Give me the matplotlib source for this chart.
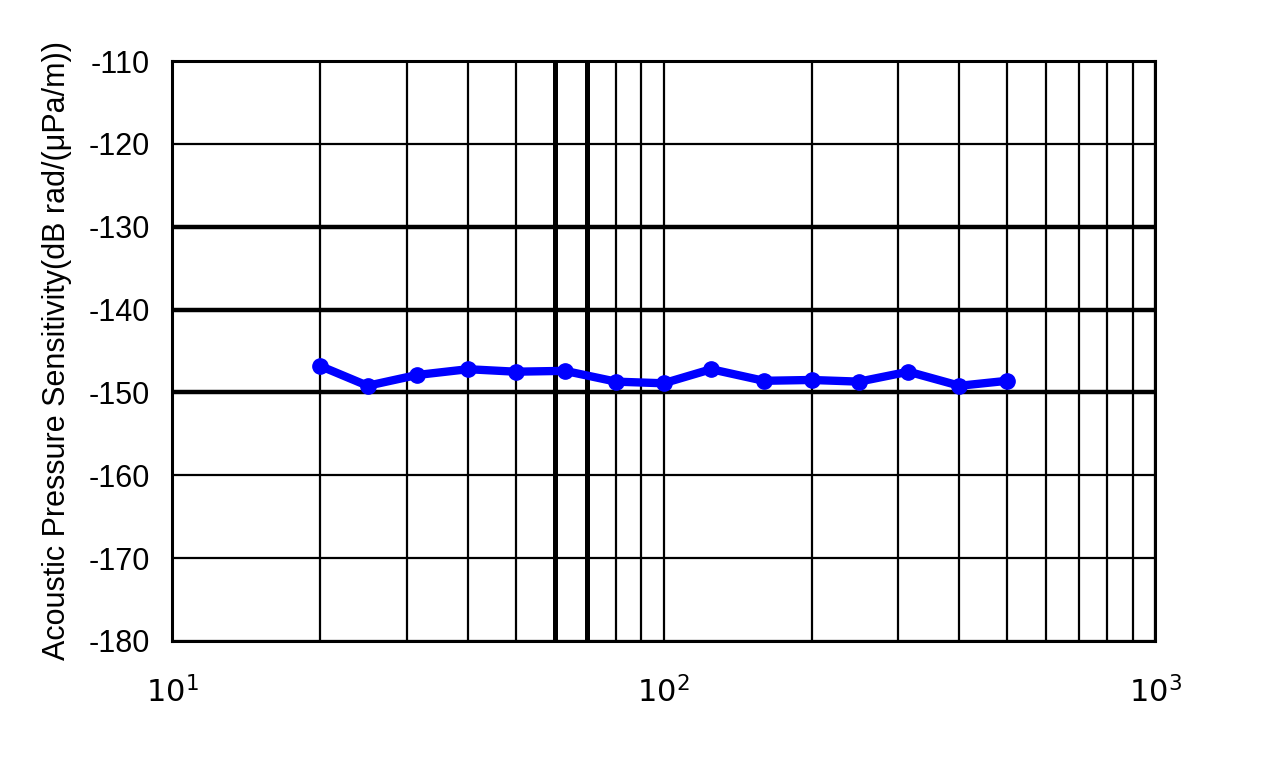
import matplotlib
matplotlib.use("Agg")
import matplotlib.pyplot as plt
import numpy as np
from matplotlib.ticker import FixedLocator, NullFormatter

plt.rcParams["font.family"] = ["Liberation Sans", "DejaVu Sans"]

# 1/3-octave frequencies (Hz) and measured sensitivity (dB)
freq_hz = [20, 25, 31.5, 40, 50, 63, 80, 100, 125, 160, 200, 250, 315, 400, 500]
sensitivity_db = [-146.8, -149.2, -147.9, -147.2, -147.5, -147.4, -148.7, -148.9,
                  -147.2, -148.6, -148.5, -148.7, -147.5, -149.2, -148.6]

y_ticks = [-110, -120, -130, -140, -150, -160, -170, -180]
minor_x = [20, 30, 40, 50, 60, 70, 80, 90, 200, 300, 400, 500, 600, 700, 800, 900]
heavy_y = [-130, -140, -150]
heavy_x = [60, 70]

fig = plt.figure(figsize=(12.8, 7.63), dpi=100)
ax = fig.add_axes([0.1344, 0.160, 0.768, 0.760])

ax.set_xscale("log")
ax.set_xlim(10, 1000)
ax.set_ylim(-180, -110)

ax.set_yticks(y_ticks)
ax.set_yticklabels([str(v) for v in y_ticks])
ax.set_xticks([10, 100, 1000])
ax.set_xticklabels([r"$10^{1}$", r"$10^{2}$", r"$10^{3}$"])
ax.xaxis.set_minor_locator(FixedLocator(minor_x))
ax.xaxis.set_minor_formatter(NullFormatter())

ax.tick_params(which="both", length=0, labelsize=22, colors="black")
ax.tick_params(axis="y", pad=16)
ax.tick_params(axis="x", pad=26)

ax.grid(which="major", axis="y", color="black", linewidth=1.6)
ax.grid(which="both", axis="x", color="black", linewidth=1.6)
for y in heavy_y:
    ax.axhline(y, color="black", linewidth=3.2, zorder=1.5)
for x in heavy_x:
    ax.axvline(x, color="black", linewidth=3.6, zorder=1.5)

for sp in ax.spines.values():
    sp.set_linewidth(2.2)

ax.plot(freq_hz, sensitivity_db, color="#0000ff", linewidth=6,
        marker="o", markersize=11, zorder=3)

ax.set_ylabel("Acoustic Pressure Sensitivity(dB rad/(\u03bcPa/m))", fontsize=22,
              labelpad=12)

fig.savefig("out.png", dpi=100)
